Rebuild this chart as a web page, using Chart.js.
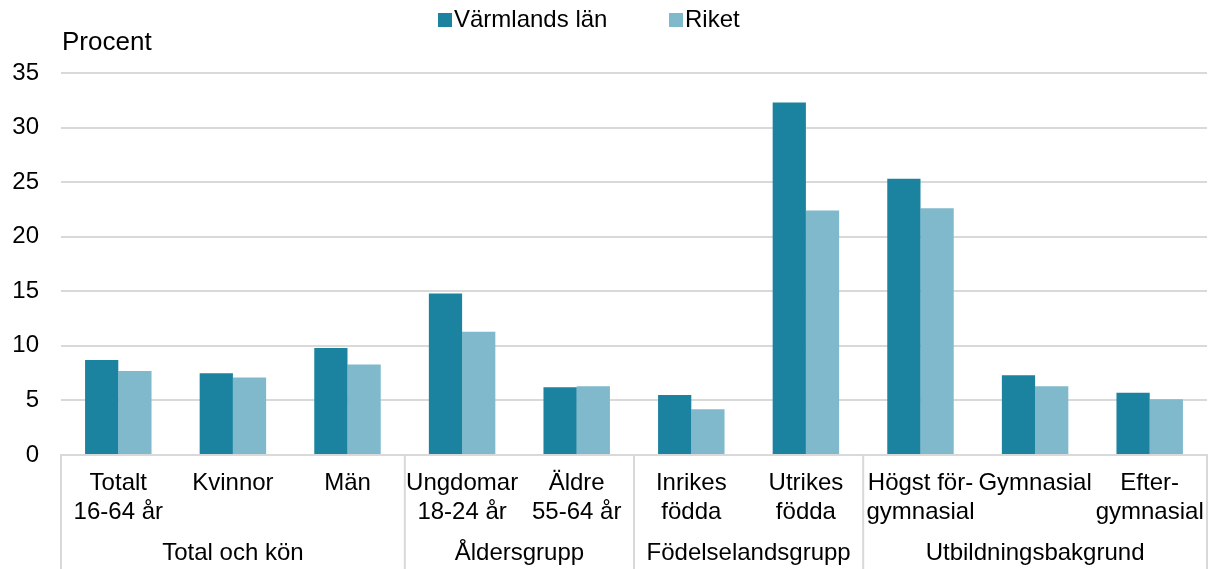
<!DOCTYPE html>
<html>
<head>
<meta charset="utf-8">
<script src="https://cdn.jsdelivr.net/npm/chart.js@4.4.1/dist/chart.umd.min.js"></script>
<style>
  html, body { margin: 0; padding: 0; background: #fff; }
  #wrap { width: 1209px; height: 569px; position: relative; }
</style>
</head>
<body>
<div id="wrap"><canvas id="myChart"></canvas></div>
<script>
// data
const categories = [
  ['Totalt', '16-64 år'], 'Kvinnor', 'Män',
  ['Ungdomar', '18-24 år'], ['Äldre', '55-64 år'],
  ['Inrikes', 'födda'], ['Utrikes', 'födda'],
  ['Högst för-', 'gymnasial'], 'Gymnasial', ['Efter-', 'gymnasial']
];
const groups = ['Total och kön', 'Åldersgrupp', 'Födelselandsgrupp', 'Utbildningsbakgrund'];
const groupSizes = [3, 2, 2, 3];
const varmland = [8.7, 7.5, 9.8, 14.8, 6.2, 5.5, 32.3, 25.3, 7.3, 5.7];
const riket = [7.7, 7.1, 8.3, 11.3, 6.3, 4.2, 22.4, 22.6, 6.3, 5.1];
const yMin = 0, yMax = 35, yStep = 5;

const FONT = "'Liberation Sans', Arial, sans-serif";
const GRID = '#d9d9d9';

// legend, "Procent" and the grouped second axis row
const extras = {
  id: 'extras',
  afterDraw(chart) {
    const c = chart.ctx;
    const area = chart.chartArea;
    const x = chart.scales.x;
    c.save();

    // legend
    c.font = '24px ' + FONT;
    c.textBaseline = 'middle';
    const items = [[438, 454], [669, 685]];
    chart.data.datasets.forEach(function(ds, i) {
      c.fillStyle = ds.backgroundColor;
      c.fillRect(items[i][0], 13, 14, 14);
      c.fillStyle = '#000';
      c.textAlign = 'left';
      c.fillText(ds.label, items[i][1], 20);
    });

    // unit label
    c.font = '26px ' + FONT;
    c.fillText('Procent', area.left + 1, 43);

    // group separators and labels
    c.strokeStyle = GRID;
    c.lineWidth = 2;
    let idx = 0;
    const edges = [area.left];
    groupSizes.forEach(function(n) {
      idx += n;
      if (idx < categories.length) {
        edges.push((x.getPixelForValue(idx - 1) + x.getPixelForValue(idx)) / 2);
      } else {
        edges.push(area.right);
      }
    });
    edges.forEach(function(e) {
      c.beginPath();
      c.moveTo(e, area.bottom);
      c.lineTo(e, chart.height);
      c.stroke();
    });
    c.font = '24px ' + FONT;
    c.textAlign = 'center';
    c.textBaseline = 'alphabetic';
    groups.forEach(function(g, i) {
      c.fillText(g, (edges[i] + edges[i + 1]) / 2, area.bottom + 105);
    });
    c.restore();
  }
};

var ctx = document.getElementById('myChart').getContext('2d');
var chart = new Chart(ctx, {
  type: 'bar',
  data: {
    labels: categories,
    datasets: [
      { label: 'Värmlands län', backgroundColor: '#1b83a0', data: varmland },
      { label: 'Riket', backgroundColor: '#7fb9cb', data: riket }
    ]
  },
  options: {
    responsive: true,
    maintainAspectRatio: false,
    animation: false,
    layout: { padding: { top: 73, left: 13, right: 2, bottom: 0 } },
    datasets: { bar: { categoryPercentage: 0.58, barPercentage: 1 } },
    plugins: {
      legend: { display: false },
      tooltip: { enabled: false }
    },
    scales: {
      x: {
        grid: { display: false },
        border: { display: true, color: GRID, width: 2 },
        ticks: {
          color: '#000', font: { family: FONT, size: 24, lineHeight: 1.21 },
          padding: 6, autoSkip: false, maxRotation: 0
        },
        afterFit: function(s) { s.height = 114; s.paddingLeft = 0; s.paddingRight = 0; }
      },
      y: {
        min: yMin, max: yMax,
        grid: { color: GRID, lineWidth: 2, drawTicks: false },
        border: { display: false },
        ticks: {
          stepSize: yStep, color: '#000', padding: 22,
          font: { family: FONT, size: 24 }
        },
        afterFit: function(s) { s.width = 48; }
      }
    }
  },
  plugins: [extras]
});
</script>
</body>
</html>
